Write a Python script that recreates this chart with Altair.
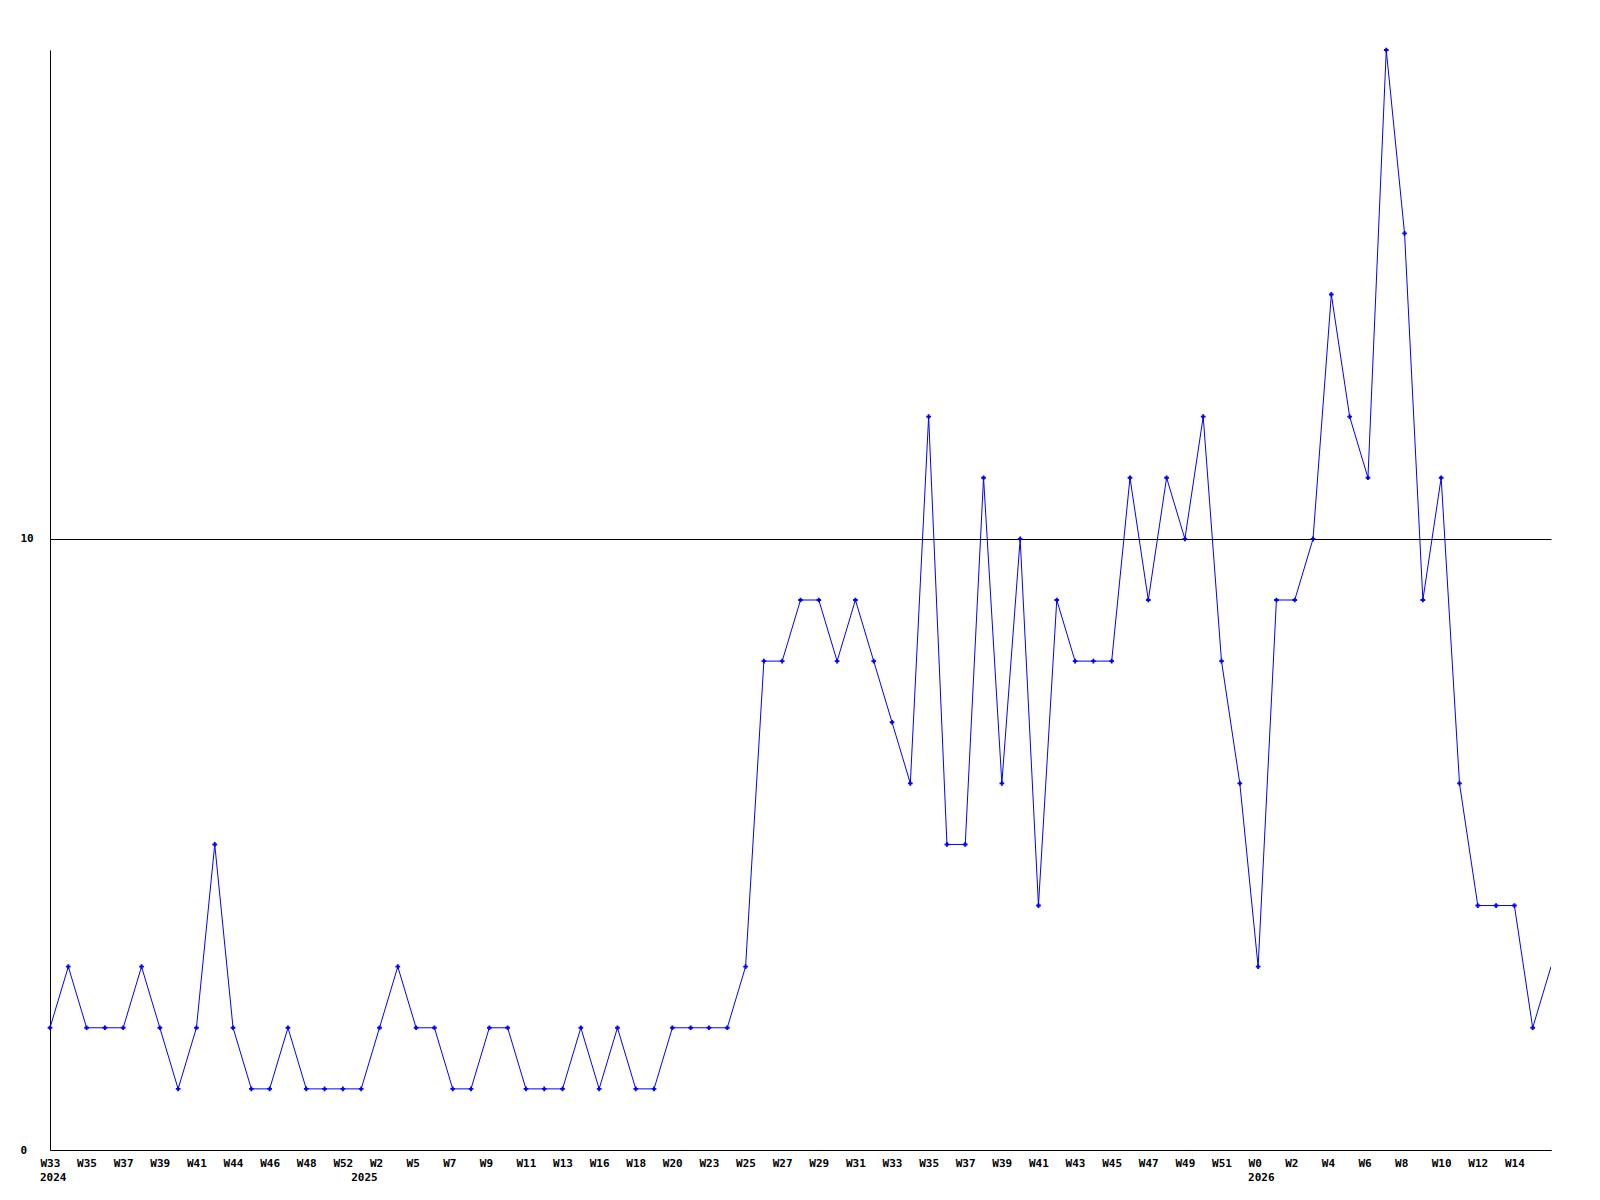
import altair as alt
import pandas as pd

values = [2, 3, 2, 2, 2, 3, 2, 1, 2, 5,
          2, 1, 1, 2, 1, 1, 1, 1, 2, 3,
          2, 2, 1, 1, 2, 2, 1, 1, 1, 2,
          1, 2, 1, 1, 2, 2, 2, 2, 3, 8,
          8, 9, 9, 8, 9, 8, 7, 6, 12, 5,
          5, 11, 6, 10, 4, 9, 8, 8, 8, 11,
          9, 11, 10, 12, 8, 6, 3, 9, 9, 10,
          14, 12, 11, 18, 15, 9, 11, 6, 4, 4,
          4, 2, 3]

week_labels = ["W33", "W35", "W37", "W39", "W41", "W44", "W46", "W48", "W52", "W2",
               "W5", "W7", "W9", "W11", "W13", "W16", "W18", "W20", "W23", "W25",
               "W27", "W29", "W31", "W33", "W35", "W37", "W39", "W41", "W43", "W45",
               "W47", "W49", "W51", "W0", "W2", "W4", "W6", "W8", "W10", "W12", "W14"]

year_index = [0, 17, 66]
year_text = ["2024", "2025", "2026"]

n = len(values)
df = pd.DataFrame({"i": list(range(n)), "v": values})
df_pts = df.iloc[:-1]
df_years = pd.DataFrame({"i": year_index, "t": year_text})

W, H = 1501, 1100
FONT = "DejaVu Sans Mono"

label_arr = "[" + ",".join("'" + s + "'" for s in week_labels) + "]"
label_expr = label_arr + "[round(datum.value / 2)]"

xscale = alt.Scale(domain=[0, n - 1], nice=False, zero=False)
yscale = alt.Scale(domain=[0, 18], nice=False)

xaxis = alt.Axis(values=list(range(0, 2 * len(week_labels), 2)), labelExpr=label_expr,
                 title=None, ticks=False, tickSize=0, grid=False, labelAlign="left",
                 labelOffset=-10, labelPadding=7, labelFlush=False, labelOverlap=False,
                 labelSeparation=0, labelBound=False,
                 labelFont=FONT, labelFontSize=11, labelFontWeight="bold",
                 labelColor="black", domainColor="black", domainWidth=1)
yaxis = alt.Axis(values=[0, 10], format="d", title=None, ticks=False, tickSize=0, grid=True,
                 gridColor="black", gridOpacity=1, gridWidth=1, labelAlign="left",
                 labelBaseline="middle", labelPadding=30, labelFlush=False,
                 labelOverlap=False,
                 labelFont=FONT, labelFontSize=11, labelFontWeight="bold",
                 labelColor="black", domainColor="black", domainWidth=1)

enc_x = alt.X("i:Q", scale=xscale, axis=xaxis)
enc_y = alt.Y("v:Q", scale=yscale, axis=yaxis)

line = alt.Chart(df).mark_line(color="#0000ff", strokeWidth=1, clip=True).encode(
    x=enc_x, y=enc_y,
)

pts = alt.Chart(df_pts).mark_point(shape="cross", filled=True, color="#0000ff",
                                   size=22, opacity=1).encode(
    x=enc_x, y=enc_y,
)

years = alt.Chart(df_years).mark_text(font=FONT, fontSize=11, fontWeight="bold",
                                      color="black", align="left", baseline="top",
                                      dx=-10).encode(
    x=enc_x,
    y=alt.value(H + 22),
    text="t:N",
)

chart = alt.layer(line, pts, years).properties(
    width=W, height=H,
    background="white",
    autosize=alt.AutoSizeParams(type="none"),
    padding={"left": 42, "top": 42, "right": 30, "bottom": 60},
).configure_view(strokeWidth=0, stroke="transparent").configure_axis(
    labelOverlap=False
)

chart.save("out.html", embed_options={"renderer": "svg", "actions": False})
